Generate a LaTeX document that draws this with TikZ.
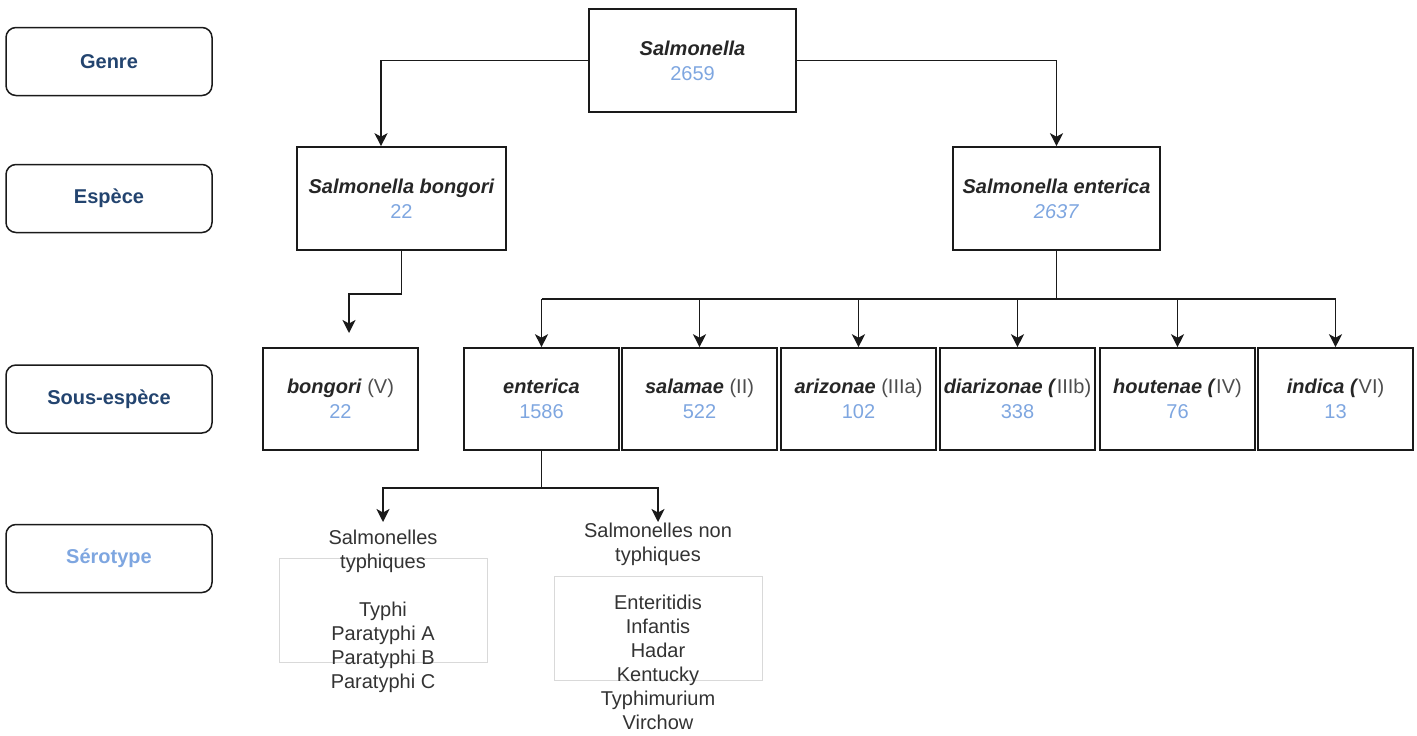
\documentclass[tikz,border=0pt]{standalone}
\usepackage{fontspec}
\setmainfont{Liberation Sans}
\usetikzlibrary{arrows.meta}
\definecolor{labelblue}{HTML}{23446F}
\definecolor{numblue}{HTML}{7EA6E0}
\definecolor{romangrey}{HTML}{4D4D4D}
\definecolor{serotext}{HTML}{333333}
\definecolor{linecol}{HTML}{1A1A1A}
\definecolor{lightbox}{HTML}{D9D9D9}
\newcommand{\nm}[1]{\textit{\textbf{#1}}}
\newcommand{\rn}[1]{{\color{romangrey}#1}}
\newcommand{\num}[1]{{\color{numblue}#1}}
\begin{document}
\begin{tikzpicture}[x=1pt,y=-1pt,
  lab/.style={draw=linecol, line width=1.5pt, rounded corners=10pt, minimum width=206pt, minimum height=68pt, inner sep=0pt, font=\fontsize{20}{25}\selectfont\bfseries, text=labelblue},
  topbox/.style={draw=linecol, line width=1.6pt, minimum width=207pt, minimum height=103pt, inner sep=0pt, font=\fontsize{20}{25}\selectfont, align=center, text=black!85},
  subbox/.style={draw=linecol, line width=1.6pt, minimum width=155pt, minimum height=102pt, inner sep=0pt, font=\fontsize{20}{25}\selectfont, align=center, text=black!85},
  sero/.style={font=\fontsize{20}{24}\selectfont, align=center, inner sep=0pt, text=serotext},
  conn/.style={draw=linecol, line width=1.5pt},
  arr/.style={conn, -{Stealth[length=13pt, width=13pt, inset=3.5pt]}},
  greybox/.style={draw=lightbox, line width=0.8pt}
]
\useasboundingbox (0,0) rectangle (1417,736);

% level labels
\node[lab] (lgenre) at (109,61.5) {Genre};
\node[lab] (lesp) at (109,198.5) {Espèce};
\node[lab] (lsous) at (109,399) {Sous-espèce};
\node[lab, text=numblue] (lsero) at (109,558.5) {Sérotype};

% genus and species
\node[topbox] (sal) at (692.5,60.5) {\nm{Salmonella}\\\num{2659}};
\node[topbox, minimum width=209pt] (bong) at (401.5,198.5) {\nm{Salmonella bongori}\\\num{22}};
\node[topbox] (ent) at (1056.5,198.5) {\nm{Salmonella enterica}\\\num{\textit{2637}}};

% subspecies
\node[subbox] (sbong) at (340.5,399) {\nm{bongori} \rn{(V)}\\\num{22}};
\node[subbox] (senter) at (541.5,399) {\nm{enterica}\\\num{1586}};
\node[subbox] (ssal) at (699.5,399) {\nm{salamae} \rn{(II)}\\\num{522}};
\node[subbox] (sari) at (858.5,399) {\nm{arizonae} \rn{(IIIa)}\\\num{102}};
\node[subbox] (sdia) at (1017.5,399) {\nm{diarizonae (}\rn{IIIb)}\\\num{338}};
\node[subbox] (shou) at (1177.5,399) {\nm{houtenae (}\rn{IV)}\\\num{76}};
\node[subbox] (sind) at (1335.5,399) {\nm{indica (}\rn{VI)}\\\num{13}};

% serotype light boxes
\node[greybox, minimum width=208pt, minimum height=104pt, inner sep=0pt] (gb1) at (383,610) {};
\node[greybox, minimum width=208pt, minimum height=104pt, inner sep=0pt] (gb2) at (658,628) {};

% serotype texts
\node[sero] (typ) at (383,611) {Salmonelles\\typhiques\\[24pt]Typhi\\Paratyphi A\\Paratyphi B\\Paratyphi C};
\node[sero] (ntyp) at (658,626) {Salmonelles non\\typhiques\\[24pt]Enteritidis\\Infantis\\Hadar\\Kentucky\\Typhimurium\\Virchow};

% connectors genus -> species
\draw[arr] (sal.west) -| ([xshift=-20.5pt]bong.north);
\draw[arr] (sal.east) -| (ent.north);

% bongori -> subspecies
\coordinate (bgend) at (349,333);
\draw[arr] (bong.south) -- ++(0,43) -| (bgend);

% enterica species -> subspecies
\coordinate (hb) at (1056.5,299);
\draw[conn] (ent.south) -- (hb);
\draw[conn] (senter.north |- hb) -- (sind.north |- hb);
\foreach \n in {senter,ssal,sari,sdia,shou,sind}{
  \draw[arr] (\n.north |- hb) -- (\n.north);
}

% enterica subspecies -> serotypes
\coordinate (hc) at (541.5,488);
\coordinate (tend) at (383,522);
\coordinate (ntend) at (658,522);
\draw[conn] (senter.south) -- (hc);
\draw[arr] (hc) -| (tend);
\draw[arr] (hc) -| (ntend);
\end{tikzpicture}
\end{document}
